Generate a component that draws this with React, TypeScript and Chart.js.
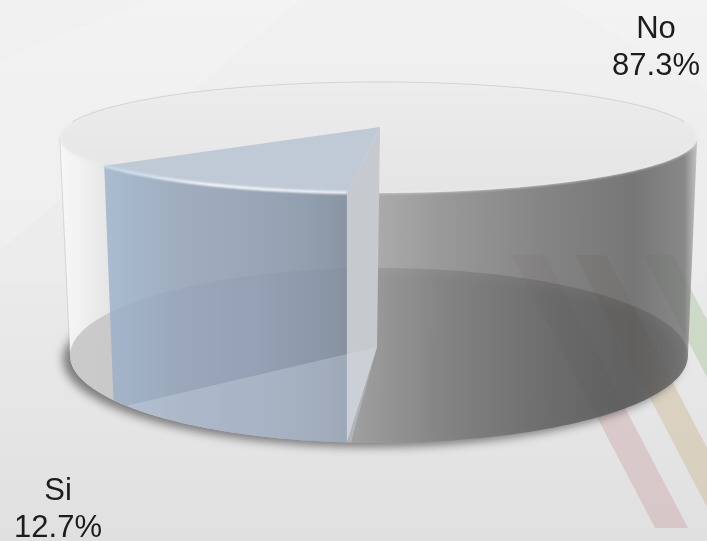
import React, { useEffect, useRef } from "react";
import { Chart, registerables } from "chart.js";

Chart.register(...registerables);

const categories = ["Si", "No"];
const shares = [12.7, 87.3];
const sliceColors = ["#bfcad6", "#e4e4e4"];
const firstSliceStartDeg = 184.7;

type Proj = { cx: number; a: number; b: number; p: number; S: number };
const TOP: Proj = { cx: 378.5, a: 127, b: 29.5, p: 0.189, S: 313 };
const FLOOR: Proj = { cx: 379, a: 347, b: 53, p: 0.097, S: 307.5 };

const project = (P: Proj, t: number): [number, number] => {
  const u = Math.cos(t), v = Math.sin(t), w = 1 - P.p * v;
  return [P.cx + (P.S * u) / w, (P.a + P.b * v) / w];
};
const arcPts = (P: Proj, s: number, e: number, n = 120) => {
  const out: [number, number][] = [];
  for (let i = 0; i <= n; i++) out.push(project(P, s + ((e - s) * i) / n));
  return out;
};
const trace = (ctx: CanvasRenderingContext2D, pts: [number, number][], close = true) => {
  ctx.beginPath();
  pts.forEach((q, i) => (i ? ctx.lineTo(q[0], q[1]) : ctx.moveTo(q[0], q[1])));
  if (close) ctx.closePath();
};
const hGrad = (ctx: CanvasRenderingContext2D, x0: number, x1: number, stops: [number, string][]) => {
  const g = ctx.createLinearGradient(x0, 0, x1, 0);
  stops.forEach(([o, c]) => g.addColorStop(o, c));
  return g;
};
const footOf = (q: [number, number]): [number, number] => {
  const x = FLOOR.cx + (q[0] - TOP.cx) * 0.968;
  const yy = Math.max(0, 1 - ((x - FLOOR.cx) / 309) ** 2);
  return [x, 355 + 88 * Math.sqrt(yy)];
};
const stripes = (ctx: CanvasRenderingContext2D, colors: string[]) => {
  const starts: [number, number][] = [[512, 33], [575, 31], [643, 30]];
  const dx = 273 * 0.524;
  starts.forEach(([x, w], i) => {
    ctx.fillStyle = colors[i];
    ctx.beginPath();
    ctx.moveTo(x, 255); ctx.lineTo(x + w, 255); ctx.lineTo(x + w + dx, 528); ctx.lineTo(x + dx, 528);
    ctx.closePath(); ctx.fill();
  });
};

const paintBackground = (ctx: CanvasRenderingContext2D, W: number, H: number) => {
  const g = ctx.createLinearGradient(0, 0, 0, H);
  g.addColorStop(0, "#f1f1f1");
  g.addColorStop(0.5, "#ebebeb");
  g.addColorStop(1, "#e0e0e0");
  ctx.fillStyle = g;
  ctx.fillRect(0, 0, W, H);
  ctx.save();
  ctx.fillStyle = "rgba(255,255,255,0.16)";
  ctx.beginPath();
  ctx.moveTo(0, 60); ctx.lineTo(150, 0); ctx.lineTo(300, 0); ctx.lineTo(0, 250);
  ctx.closePath(); ctx.fill();
  ctx.beginPath();
  ctx.moveTo(560, 0); ctx.lineTo(707, 0); ctx.lineTo(707, 90);
  ctx.closePath(); ctx.fill();
  ctx.restore();
  ctx.save();
  ctx.beginPath();
  ctx.rect(0, 255, W, 273);
  ctx.clip();
  stripes(ctx, ["rgba(205,165,170,0.42)", "rgba(205,180,140,0.42)", "rgba(165,195,150,0.4)"]);
  ctx.restore();
};

const piePlugin = {
  id: "perspectivePie",
  beforeDatasetDraw() {
    return false;
  },
  afterDatasetsDraw(chart: any) {
    const ctx: CanvasRenderingContext2D = chart.ctx;
    const arcs = chart.getDatasetMeta(0).data;
    const si = arcs[0], no = arcs[1];
    const s = si.startAngle, e = si.endAngle;
    const pNear = project(TOP, s), pFar = project(TOP, e);
    const fNear = project(FLOOR, s);
    const apex: [number, number] = [TOP.cx + 1.5, TOP.a];
    const fApex: [number, number] = [FLOOR.cx - 2, FLOOR.a];
    const rimAll = arcPts(TOP, 0, Math.PI * 2, 240);
    const floorAll = arcPts(FLOOR, 0, Math.PI * 2, 240);
    const tT = Math.asin(TOP.p), tF = Math.asin(FLOOR.p);
    const nearRim = arcPts(TOP, tT, Math.PI - tT, 140);
    const nearFoot = arcPts(FLOOR, tF, Math.PI - tF, 140);
    const wallShape: [number, number][] = [...nearRim, ...nearFoot.slice().reverse()];

    // cast shadow
    ctx.save();
    ctx.filter = "blur(5px)";
    ctx.fillStyle = "rgba(80,80,80,0.7)";
    trace(ctx, floorAll.map(([x, y]) => [x - 7, y + 4] as [number, number]));
    ctx.fill();
    ctx.restore();

    // whole wall of the large slice
    ctx.fillStyle = hGrad(ctx, 60, 697, [
      [0, "rgba(247,247,247,0.98)"],
      [0.03, "rgba(242,242,242,0.98)"],
      [0.08, "rgba(228,228,228,0.98)"],
      [0.45, "rgba(176,176,176,0.95)"],
      [0.6, "rgba(148,148,148,0.94)"],
      [0.78, "rgba(122,122,122,0.93)"],
      [0.9, "rgba(110,110,110,0.93)"],
      [0.98, "rgba(128,128,128,0.93)"],
      [1, "rgba(190,190,190,0.9)"],
    ]);
    trace(ctx, wallShape);
    ctx.fill();

    // floor seen through the wall
    ctx.save();
    trace(ctx, wallShape);
    ctx.clip();
    ctx.fillStyle = hGrad(ctx, 70, 690, [
      [0, "rgba(0,0,0,0.17)"],
      [0.07, "rgba(0,0,0,0.11)"],
      [0.45, "rgba(0,0,0,0.07)"],
      [0.6, "rgba(0,0,0,0.1)"],
      [0.85, "rgba(0,0,0,0.13)"],
      [1, "rgba(0,0,0,0.13)"],
    ]);
    trace(ctx, floorAll);
    ctx.fill();
    ctx.beginPath();
    ctx.rect(0, 255, 707, 273);
    ctx.clip();
    stripes(ctx, ["rgba(100,70,70,0.05)", "rgba(90,80,60,0.05)", "rgba(70,90,70,0.04)"]);
    ctx.restore();

    // wall side edges
    ctx.strokeStyle = "rgba(150,150,150,0.3)";
    ctx.lineWidth = 1;
    trace(ctx, [nearRim[nearRim.length - 1], nearFoot[nearFoot.length - 1]], false);
    ctx.stroke();

    // wall of the small slice
    const siRim = arcPts(TOP, s, e, 60);
    const siFoot = siRim.map(footOf);
    const siWall = [...siRim, ...siFoot.slice().reverse()];
    ctx.fillStyle = hGrad(ctx, pFar[0], pNear[0], [
      [0, "#a9bcd0"],
      [0.3, "#a0adbf"],
      [0.6, "#9aa7b9"],
      [0.85, "#919eae"],
      [1, "#8a95a3"],
    ]);
    trace(ctx, siWall);
    ctx.fill();
    ctx.save();
    trace(ctx, siWall);
    ctx.clip();
    ctx.fillStyle = "rgba(40,60,90,0.04)";
    trace(ctx, floorAll);
    ctx.fill();
    ctx.restore();

    // top face
    ctx.save();
    ctx.filter = "blur(1.6px)";
    const topG = ctx.createLinearGradient(0, 82, 0, 193);
    topG.addColorStop(0, "#ececec");
    topG.addColorStop(1, no.options.backgroundColor);
    ctx.fillStyle = topG;
    trace(ctx, rimAll);
    ctx.fill();
    ctx.restore();

    // far rim line
    ctx.strokeStyle = "rgba(120,120,120,0.28)";
    ctx.lineWidth = 0.8;
    trace(ctx, arcPts(TOP, Math.PI * 1.03, Math.PI * 1.97), false);
    ctx.stroke();

    // top of the small slice
    ctx.fillStyle = si.options.backgroundColor;
    trace(ctx, [apex, ...siRim]);
    ctx.fill();

    // cut face, from the apex of the top to the apex of the floor
    ctx.fillStyle = "#c6c9cd";
    trace(ctx, [apex, pNear, [pNear[0], fNear[1]], fApex]);
    ctx.fill();

    // floor of the small slice
    ctx.fillStyle = "rgba(215,226,238,0.3)";
    trace(ctx, [fApex, ...arcPts(FLOOR, s, e, 60)]);
    ctx.fill();

    // glint
    ctx.save();
    ctx.filter = "blur(0.8px)";
    const gl = ctx.createLinearGradient(pFar[0], 0, pNear[0], 0);
    gl.addColorStop(0, "rgba(190,220,245,0.8)");
    gl.addColorStop(0.45, "rgba(255,255,255,0.95)");
    gl.addColorStop(1, "rgba(245,248,252,0.9)");
    ctx.strokeStyle = gl;
    ctx.lineWidth = 2.5;
    trace(ctx, siRim, false);
    ctx.stroke();
    ctx.restore();

    // labels
    ctx.fillStyle = "#1c1c1c";
    ctx.font = '31px "Liberation Sans", Arial, sans-serif';
    ctx.textAlign = "center";
    ctx.textBaseline = "alphabetic";
    const spots: [number, number, number][] = [[58, 500, 537], [656, 38, 75]];
    categories.forEach((c, i) => {
      ctx.fillText(c, spots[i][0], spots[i][1]);
      ctx.fillText(`${shares[i].toFixed(1)}%`, spots[i][0], spots[i][2]);
    });
  },
};

export default function App() {
  const ref = useRef<HTMLCanvasElement>(null);
  useEffect(() => {
    document.body.style.margin = "0";
    const canvas = ref.current!;
    const chart = new Chart(canvas, {
      type: "pie",
      data: {
        labels: categories,
        datasets: [{ data: shares, backgroundColor: sliceColors, borderWidth: 0 }],
      },
      options: {
        responsive: false,
        animation: false,
        rotation: firstSliceStartDeg,
        plugins: { legend: { display: false }, tooltip: { enabled: false } },
      },
      plugins: [
        {
          id: "pageBackground",
          beforeDraw(c: any) {
            paintBackground(c.ctx, c.width, c.height);
          },
        },
        piePlugin,
      ],
    } as any);
    return () => chart.destroy();
  }, []);
  return <canvas ref={ref} width={707} height={541} style={{ display: "block" }} />;
}
